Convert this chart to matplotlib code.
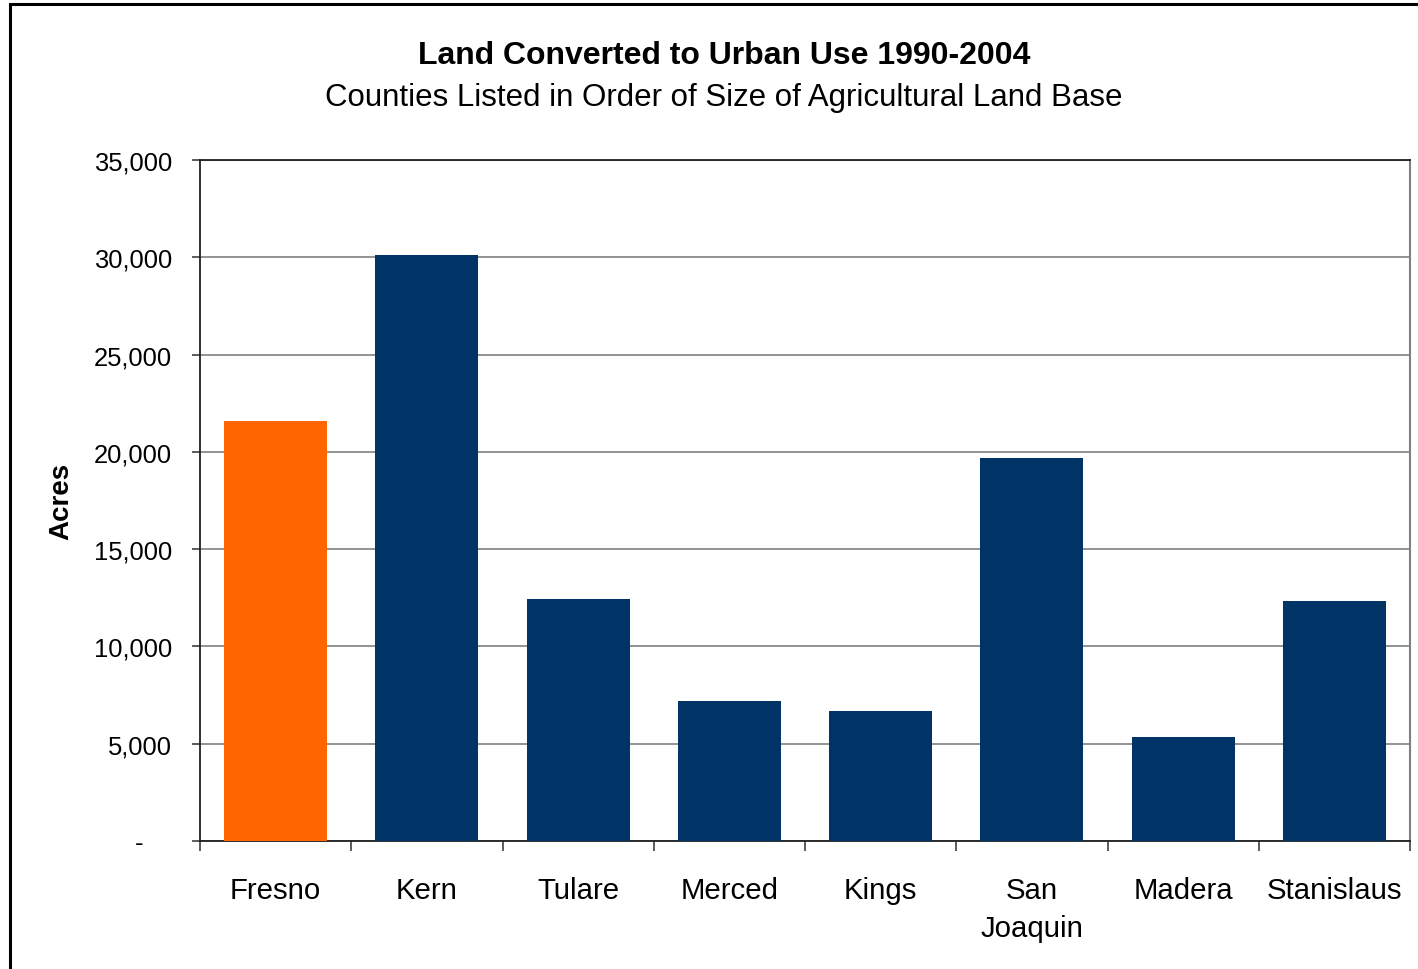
import numpy as np
import matplotlib
matplotlib.use("Agg")
import matplotlib.pyplot as plt
from matplotlib.patches import Rectangle
from matplotlib.ticker import FuncFormatter, FixedLocator

plt.rcParams['font.family'] = ['Liberation Sans', 'DejaVu Sans']

# data
counties = ["Fresno", "Kern", "Tulare", "Merced", "Kings", "San\nJoaquin", "Madera", "Stanislaus"]
acres = [21600, 30100, 12450, 7200, 6700, 19700, 5350, 12350]
bar_colors = ["#FF6600", "#003366", "#003366", "#003366", "#003366", "#003366", "#003366", "#003366"]
yticks = [0, 5000, 10000, 15000, 20000, 25000, 30000, 35000]

fig = plt.figure(figsize=(14.18, 9.70), dpi=100)

# outer chart border (only top and left visible in the reference)
fig.patches.append(Rectangle((10 / 1418, -0.1), 1.2, 1.1 - 5 / 970,
                             transform=fig.transFigure, fill=False,
                             edgecolor="black", linewidth=2.2, zorder=0))

ax = fig.add_axes([200 / 1418, 1 - 842 / 970, 1210 / 1418, 681 / 970])

x = np.arange(len(counties))
ax.bar(x, acres, width=0.68, color=bar_colors, zorder=3)

ax.set_xlim(-0.5, len(counties) - 0.5)
ax.set_ylim(0, 35000)
ax.set_yticks(yticks)
# accounting-style format: zero shows as a dash set in from the right
ax.yaxis.set_major_formatter(FuncFormatter(lambda v, p: "-    " if v == 0 else f"{v:,.0f}"))
ax.grid(axis="y", color="#808080", linewidth=1.2, zorder=1)

ax.set_xticks(x)
ax.set_xticklabels(counties, fontsize=21.2, linespacing=1.45)
ax.xaxis.set_minor_locator(FixedLocator(np.arange(-0.5, len(counties), 1.0)))
ax.tick_params(axis="x", which="major", length=0, pad=25)
ax.tick_params(axis="x", which="minor", length=7, width=1.2, color="#404040", direction="out")
ax.tick_params(axis="y", length=6, width=1.2, color="#404040", labelsize=18.4, pad=14)

for side in ["left", "bottom", "top"]:
    ax.spines[side].set_color("#202020")
    ax.spines[side].set_linewidth(1.3)
ax.spines["right"].set_color("#808080")
ax.spines["right"].set_linewidth(1.5)

ax.set_ylabel("Acres", fontsize=20, fontweight="bold", labelpad=14)

fig.text(724 / 1418, 1 - 56 / 970, "Land Converted to Urban Use 1990-2004",
         ha="center", va="center", fontsize=23, fontweight="bold")
fig.text(724 / 1418, 1 - 98 / 970, "Counties Listed in Order of Size of Agricultural Land Base",
         ha="center", va="center", fontsize=22.5)

fig.savefig("out.png", dpi=100)
